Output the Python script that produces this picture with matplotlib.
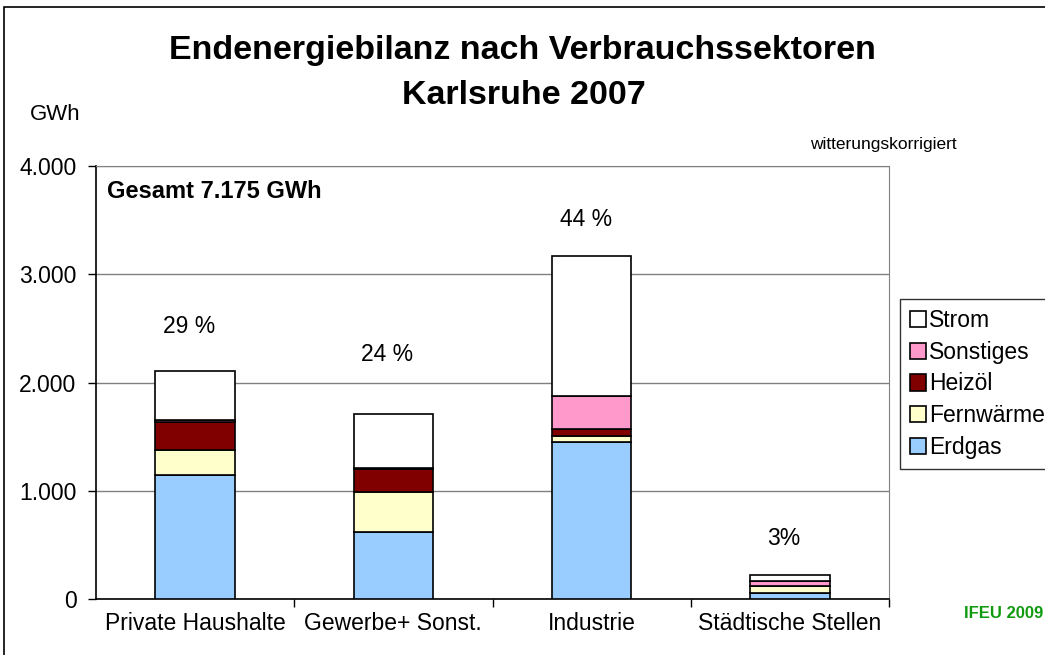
import matplotlib.pyplot as plt
from matplotlib.patches import Rectangle
import numpy as np

plt.rcParams['font.family'] = ['Liberation Sans', 'DejaVu Sans']

# Werte in GWh
sektoren = ['Private Haushalte', 'Gewerbe+ Sonst.', 'Industrie', 'Städtische Stellen']
erdgas = [1148, 617, 1447, 58]
fernwaerme = [229, 367, 62, 60]
heizoel = [262, 217, 65, 5]
sonstiges = [10, 5, 303, 40]
strom = [453, 504, 1293, 55]
anteile = ['29 %', '24 %', '44 %', '3%']
anteil_y = [2520, 2260, 3510, 560]
yticks = [0, 1000, 2000, 3000, 4000]
ytick_labels = ['0', '1.000', '2.000', '3.000', '4.000']

reihen = [('Erdgas', erdgas, '#99CCFF'),
          ('Fernwärme', fernwaerme, '#FFFFCC'),
          ('Heizöl', heizoel, '#800000'),
          ('Sonstiges', sonstiges, '#FF99CC'),
          ('Strom', strom, '#FFFFFF')]

fig = plt.figure(figsize=(10.45, 6.55), dpi=100)
ax = fig.add_axes([96 / 1045, 1 - 599 / 655, 793 / 1045, 433 / 655])

x = np.arange(len(sektoren))
unten = np.zeros(len(sektoren))
handles = []
for name, werte, farbe in reihen:
    b = ax.bar(x, werte, 0.4, bottom=unten, color=farbe, edgecolor='black',
               linewidth=1.2, label=name, zorder=3)
    unten += np.array(werte)
    handles.append(b)

ax.set_xlim(-0.5, 3.5)
ax.set_ylim(0, 4000)
ax.set_yticks(yticks)
ax.set_yticklabels(ytick_labels, fontsize=16.5)
ax.set_xticks(x)
ax.set_xticklabels(sektoren, fontsize=16.5)
ax.tick_params(axis='x', length=0, pad=9)
ax.tick_params(axis='y', length=6, width=1, direction='out', pad=8)
ax.set_xticks([0.5, 1.5, 2.5, 3.5], minor=True)
ax.tick_params(axis='x', which='minor', length=6, width=1, direction='out')
ax.grid(axis='y', color='#808080', linewidth=1, zorder=0)

for s in ['top', 'right']:
    ax.spines[s].set_color('#808080')
for s in ['left', 'bottom']:
    ax.spines[s].set_color('black')
    ax.spines[s].set_linewidth(1.2)

for xi, txt, yi in zip(x, anteile, anteil_y):
    ax.text(xi - 0.03, yi, txt, ha='center', va='center', fontsize=16.5)

ax.text(0.014, 0.942, 'Gesamt 7.175 GWh', transform=ax.transAxes,
        fontsize=17, fontweight='bold', ha='left', va='center')

fig.text(522 / 1045, 1 - 50 / 655, 'Endenergiebilanz nach Verbrauchssektoren',
         ha='center', va='center', fontsize=24.5, fontweight='bold')
fig.text(524 / 1045, 1 - 96 / 655, 'Karlsruhe 2007',
         ha='center', va='center', fontsize=24.5, fontweight='bold')
fig.text(30 / 1045, 1 - 115 / 655, 'GWh', ha='left', va='center', fontsize=16)
fig.text(810 / 1045, 1 - 144 / 655, 'witterungskorrigiert', ha='left', va='center', fontsize=12.5)
fig.text(1043 / 1045, 1 - 613 / 655, 'IFEU 2009', ha='right', va='center', fontsize=12,
         fontweight='bold', color='#109A10')

leg = fig.legend(handles[::-1], [r[0] for r in reihen][::-1],
                 loc='upper left', bbox_to_anchor=(900 / 1045, 1 - 299 / 655),
                 fontsize=16.5, frameon=True, fancybox=False, edgecolor='black',
                 handlelength=0.7, handleheight=0.7, handletextpad=0.15,
                 labelspacing=0.39, borderpad=0.42, borderaxespad=0)
leg.get_frame().set_linewidth(1)

fig.patches.append(Rectangle((4 / 1045, -0.01), 1.02, 1 - 7 / 655 + 0.01,
                             transform=fig.transFigure, fill=False,
                             edgecolor='black', linewidth=1.2))

fig.savefig('out.png', dpi=100)
